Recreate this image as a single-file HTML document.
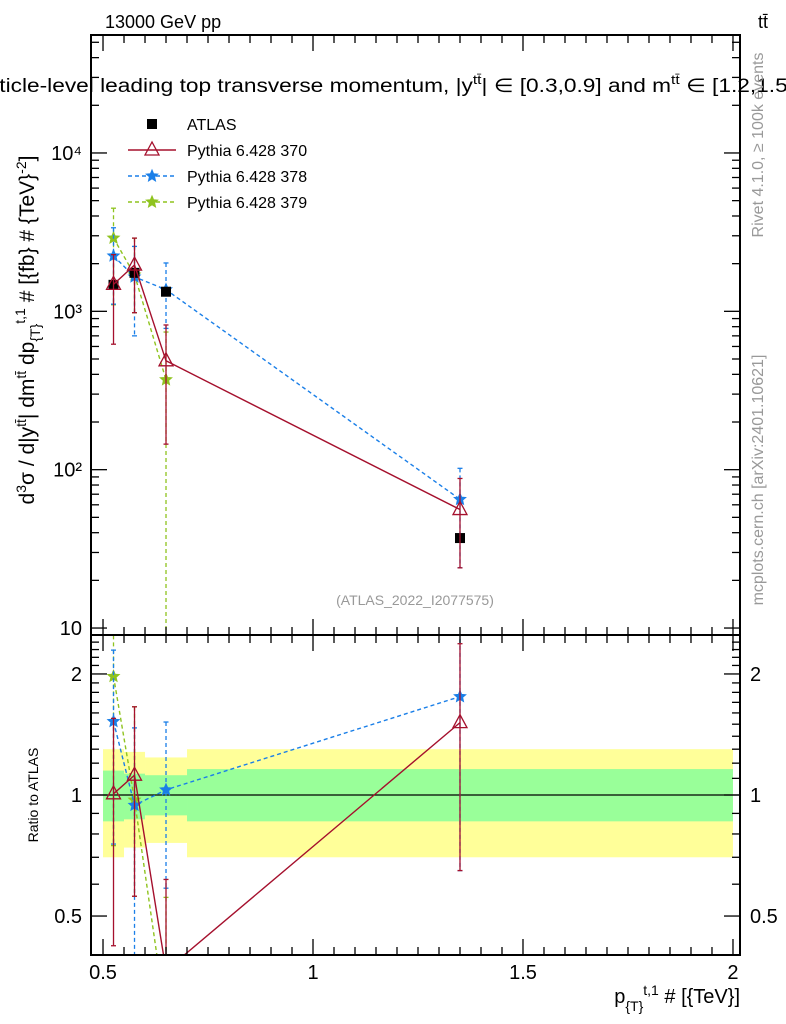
<!DOCTYPE html>
<html><head><meta charset="utf-8"><style>
html,body{margin:0;padding:0;background:#fff;overflow:hidden;width:786px;height:1024px;}
svg{display:block;font-family:"Liberation Sans","DejaVu Sans",sans-serif;}
</style></head><body>
<svg id="chart" width="786" height="1024" viewBox="0 0 786 1024" xmlns="http://www.w3.org/2000/svg" overflow="hidden">
<defs>
<clipPath id="cm"><rect x="91" y="35" width="649" height="600"/></clipPath>
<clipPath id="cr"><rect x="91" y="635" width="649" height="320"/></clipPath>
<clipPath id="cpage"><rect x="0" y="0" width="786" height="1024"/></clipPath>
</defs>
<g clip-path="url(#cpage)">
<g id="bands" clip-path="url(#cr)"></g>
<g id="mainMarks" clip-path="url(#cm)"></g>
<g id="ratioMarks" clip-path="url(#cr)"></g>
<g id="axes"></g>
<text x="105" y="28" font-size="18">13000 GeV pp</text>
<text x="758" y="28" font-size="18">tt̄</text>
<text x="-36" y="92" font-size="19" textLength="875" lengthAdjust="spacingAndGlyphs">Particle-level leading top transverse momentum, |y<tspan dy="-8" font-size="13">tt̄</tspan><tspan dy="8">| ∈ [0.3,0.9] and m</tspan><tspan dy="-8" font-size="13">tt̄</tspan><tspan dy="8"> ∈ [1.2,1.5] TeV</tspan></text>
<text transform="translate(34,330) rotate(-90)" text-anchor="middle" font-size="21">d<tspan dy="-8" font-size="14">3</tspan><tspan dy="8">σ / d|y</tspan><tspan dy="-8" font-size="14">tt̄</tspan><tspan dy="8">| dm</tspan><tspan dy="-8" font-size="14">tt̄</tspan><tspan dy="8"> dp</tspan><tspan dy="6" font-size="14">{T}</tspan><tspan dy="-15" font-size="14">t,1</tspan><tspan dy="9"> # [{fb} # {TeV}</tspan><tspan dy="-8" font-size="14">-2</tspan><tspan dy="8">]</tspan></text>
<text transform="translate(763,145) rotate(-90)" text-anchor="middle" font-size="16" fill="#999">Rivet 4.1.0, ≥ 100k events</text>
<text transform="translate(763,480) rotate(-90)" text-anchor="middle" font-size="16" fill="#999">mcplots.cern.ch [arXiv:2401.10621]</text>
<text x="415" y="605" text-anchor="middle" font-size="14" fill="#999">(ATLAS_2022_I2077575)</text>
<text transform="translate(38,795) rotate(-90)" text-anchor="middle" font-size="14">Ratio to ATLAS</text>
<text x="740" y="1003" text-anchor="end" font-size="20">p<tspan dy="8" font-size="14">{T}</tspan><tspan dy="-16" font-size="14">t,1</tspan><tspan dy="8"> # [{TeV}]</tspan></text>
<g id="legend"></g>
</g>
</svg>
<script>
const binLo=[0.5,0.55,0.6,0.7];
const binHi=[0.55,0.6,0.7,2.0];
const xPts=[0.525,0.575,0.65,1.35];
const atlas=[1470,1750,1330,37];
const statUp=[1.15,1.13,1.12,1.16];
const statDn=[0.86,0.87,0.89,0.86];
const totUp=[1.30,1.28,1.24,1.30];
const totDn=[0.70,0.74,0.76,0.70];
const p370=[1480,1960,487,56];
const p370Up=[2280,2900,820,88];
const p370Dn=[620,980,145,24];
const p378=[2240,1650,1370,65];
const p378Up=[3370,2570,2020,102];
const p378Dn=[1110,700,780,24];
const p379=[2900,1700,370];
const p379Up=[4480,2900,740];
const p379Dn=[1100,980,0.001];
const xTicks=[0.5,1,1.5,2];
const xTickLabels=["0.5","1","1.5","2"];
const yMainTicks=[10,100,1000,10000];
const yMainLabels=["10","10²","10³","10⁴"];
const yRatioTicks=[0.5,1,2];
const yRatioLabels=["0.5","1","2"];

const NS="http://www.w3.org/2000/svg";
const L=91,R=740,T=35,MB=635,RB=955;
const X=v=>L+(v-0.4714)/(2.0167-0.4714)*(R-L);
const YM=v=>T+(4.745-Math.log10(Math.max(v,1e-3)))/(4.745-0.956)*(MB-T);
const YR=v=>MB+(Math.log2(2.5)-Math.log2(Math.max(v,1e-3)))/(Math.log2(2.5)-Math.log2(0.4))*(RB-MB);
function mk(tag,attrs,parent){const e=document.createElementNS(NS,tag);for(const k in attrs)e.setAttribute(k,attrs[k]);parent.appendChild(e);return e;}
const bands=document.getElementById('bands'),mm=document.getElementById('mainMarks'),rm=document.getElementById('ratioMarks'),ax=document.getElementById('axes'),lg=document.getElementById('legend');

binLo.forEach((lo,i)=>{
 let r=mk('rect',{x:X(lo),y:YR(totUp[i]),width:X(binHi[i])-X(lo),height:YR(totDn[i])-YR(totUp[i]),fill:'#ffff99'},bands);
 
 
 let g=mk('rect',{x:X(lo),y:YR(statUp[i]),width:X(binHi[i])-X(lo),height:YR(statDn[i])-YR(statUp[i]),fill:'#99ff99'},bands);
 
 
});
let l1=mk('line',{x1:L,x2:R,y1:YR(1),y2:YR(1),stroke:'#000','stroke-width':1.2},bands);



function star(cx,cy,r,color,parent){
 let p=[];for(let k=0;k<10;k++){const a=-Math.PI/2+k*Math.PI/5;const rr=k%2?r*0.45:r;p.push((cx+rr*Math.cos(a)).toFixed(1)+','+(cy+rr*Math.sin(a)).toFixed(1));}
 return mk('polygon',{points:p.join(' '),fill:color,stroke:color,'stroke-width':1},parent);
}
function tri(cx,cy,color,parent){return mk('polygon',{points:`${cx},${cy-8} ${cx-7},${cy+5} ${cx+7},${cy+5}`,fill:'none',stroke:color,'stroke-width':1.3},parent);}

function series(name,vals,up,dn,color,dash,marker,Y,div){
 const grpM=mk('g',{},Y===YM?mm:rm);
 
 
 const v=vals.map((x,i)=>x/div[i]),u=up.map((x,i)=>x/div[i]),d=dn.map((x,i)=>x/div[i]);
 for(let i=0;i<v.length;i++){
  const x=X(xPts[i]);
  let e=mk('line',{x1:x,x2:x,y1:Y(u[i]),y2:Y(d[i]),stroke:color,'stroke-width':1.3,'stroke-dasharray':dash},grpM);
  
  
  mk('line',{x1:x-2.5,x2:x+2.5,y1:Y(u[i]),y2:Y(u[i]),stroke:color,'stroke-width':1.3},grpM);
  mk('line',{x1:x-2.5,x2:x+2.5,y1:Y(d[i]),y2:Y(d[i]),stroke:color,'stroke-width':1.3},grpM);
 }
 let pl=mk('polyline',{points:v.map((y,i)=>X(xPts[i])+','+Y(y)).join(' '),fill:'none',stroke:color,'stroke-width':1.4,'stroke-dasharray':dash},grpM);
 
 
 v.forEach((y,i)=>{let m=marker(X(xPts[i]),Y(y),color,grpM);});
}
const ones=[1,1,1,1];
series('pythia-379-main',p379,p379Up,p379Dn,'#8fc31f','4,3',(x,y,c,p)=>star(x,y,6,c,p),YM,ones);
series('pythia-378-main',p378,p378Up,p378Dn,'#1a7fe8','4,3',(x,y,c,p)=>star(x,y,6,c,p),YM,ones);
const ag=mk('g',{},mm);


atlas.forEach((v,i)=>{let s=mk('rect',{x:X(xPts[i])-5,y:YM(v)-5,width:10,height:10,fill:'#000'},ag);});
series('pythia-370-main',p370,p370Up,p370Dn,'#a5102d','',tri,YM,ones);
series('pythia-379-ratio',p379,p379Up,p379Dn,'#8fc31f','4,3',(x,y,c,p)=>star(x,y,6,c,p),YR,atlas);
series('pythia-378-ratio',p378,p378Up,p378Dn,'#1a7fe8','4,3',(x,y,c,p)=>star(x,y,6,c,p),YR,atlas);
series('pythia-370-ratio',p370,p370Up,p370Dn,'#a5102d','',tri,YR,atlas);

[[T,MB],[MB,RB]].forEach(([a,b])=>{let f=mk('rect',{x:L,y:a,width:R-L,height:b-a,fill:'none',stroke:'#000','stroke-width':2},ax);});
for(let k=0;k<=30;k++){const v=0.5+k*0.05;const x=X(v);const maj=(k%10===0);const len=maj?16:8;
 [[T,1],[MB,-1],[MB,1],[RB,-1]].forEach(([y0,s])=>mk('line',{x1:x,x2:x,y1:y0,y2:y0+s*len,stroke:'#000','stroke-width':1.3},ax));}
xTicks.forEach((v,i)=>{let t=mk('text',{x:X(v),y:979,'text-anchor':'middle','font-size':20},ax);t.textContent=xTickLabels[i];});
for(let dec=1;dec<=4;dec++)for(let m=1;m<=9;m++){const v=m*Math.pow(10,dec);if(v>55000)continue;const y=YM(v);const len=m===1?16:8;
 mk('line',{x1:L,x2:L+len,y1:y,y2:y,stroke:'#000','stroke-width':1.3},ax);mk('line',{x1:R,x2:R-len,y1:y,y2:y,stroke:'#000','stroke-width':1.3},ax);}
yMainTicks.forEach((v,i)=>{let t=mk('text',{x:82,y:YM(v)+7,'text-anchor':'end','font-size':20},ax);t.textContent=yMainLabels[i];});
for(let k=4;k<=25;k++){const v=k/10;const y=YR(v);const maj=(v===0.5||v===1||v===2);const len=maj?16:8;
 mk('line',{x1:L,x2:L+len,y1:y,y2:y,stroke:'#000','stroke-width':1.3},ax);mk('line',{x1:R,x2:R-len,y1:y,y2:y,stroke:'#000','stroke-width':1.3},ax);}
yRatioTicks.forEach((v,i)=>{[[82,'end'],[750,'start']].forEach(([x,a])=>{let t=mk('text',{x:x,y:YR(v)+7,'text-anchor':a,'font-size':20},ax);t.textContent=yRatioLabels[i];});});
const leg=[['ATLAS','#000','',null],['Pythia 6.428 370','#a5102d','','tri'],['Pythia 6.428 378','#1a7fe8','4,3','star'],['Pythia 6.428 379','#8fc31f','4,3','star']];
leg.forEach((e,i)=>{const y=124+i*26;const g=mk('g',{},lg);
 
 
 if(!e[3]){mk('rect',{x:147,y:y-5,width:10,height:10,fill:'#000'},g);}
 else{mk('line',{x1:128,x2:176,y1:y,y2:y,stroke:e[1],'stroke-width':1.4,'stroke-dasharray':e[2]},g);
  if(e[3]==='tri')tri(152,y,e[1],g);else star(152,y,6,e[1],g);}
 const t=mk('text',{x:187,y:y+6,'font-size':16},g);t.textContent=e[0];});
</script>
</body></html>
